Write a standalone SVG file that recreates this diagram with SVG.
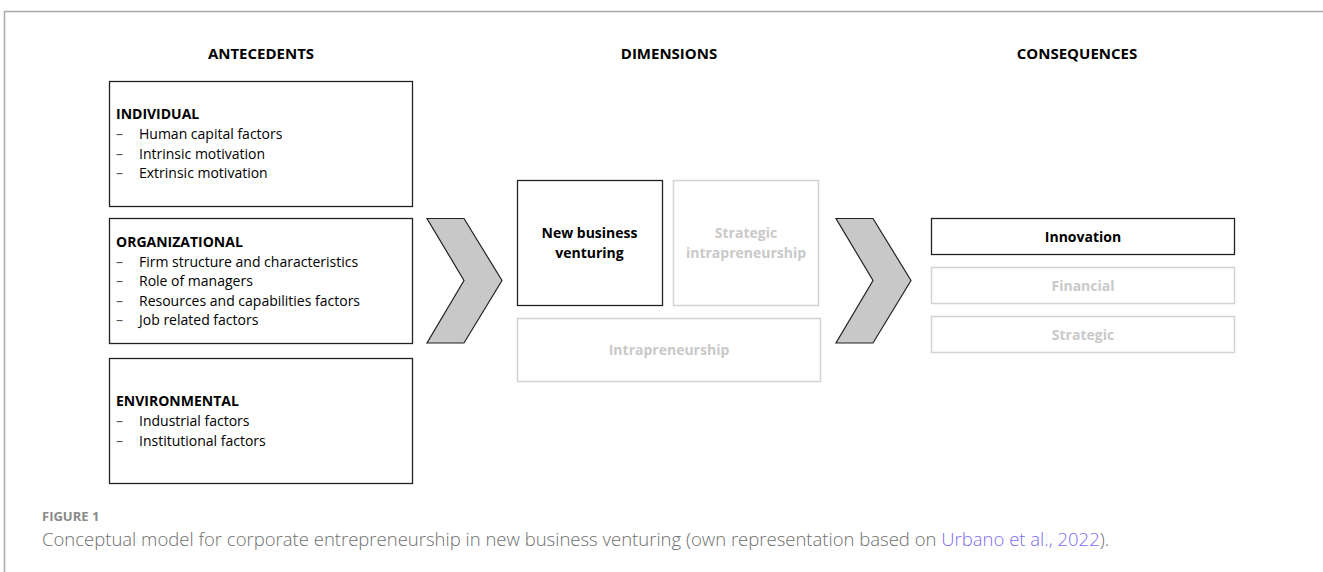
<svg xmlns="http://www.w3.org/2000/svg" width="1323" height="572" viewBox="0 0 1323 572">
<style>
.t{font-family:"Open Sans","Noto Sans",sans-serif;font-size:14px;fill:#000}
.b{font-weight:bold}
.d{fill:#555}
.h{font-family:"Open Sans","Noto Sans",sans-serif;font-size:15px;font-weight:bold;fill:#000}
.box{fill:#fff;stroke:#222;stroke-width:1.3}
.lbox{fill:#fff;stroke:#d3d3d3;stroke-width:1.5}
.lt{fill:#c9c9c9}
.chev{fill:#c8c8c8;stroke:#222;stroke-width:1.2}
.cap{font-family:"Open Sans","Noto Sans",sans-serif;font-weight:300;fill:#6e6e6e}
</style>
<rect width="1323" height="572" fill="#fff"/>
<path d="M4.5,572 V11.5 H1323" fill="none" stroke="#aaa" stroke-width="1.5"/>
<g id="headers">
<text class="h" x="261" y="59" text-anchor="middle">ANTECEDENTS</text>
<text class="h" x="669" y="59" text-anchor="middle">DIMENSIONS</text>
<text class="h" x="1077" y="59" text-anchor="middle">CONSEQUENCES</text>
</g>
<g id="individual">
<rect class="box" x="109.5" y="81.5" width="303" height="125"/>
<text class="t b" x="116" y="119">INDIVIDUAL</text>
<text class="t d" x="116" y="139">–</text><text class="t" x="139" y="139">Human capital factors</text>
<text class="t d" x="116" y="158.5">–</text><text class="t" x="139" y="158.5">Intrinsic motivation</text>
<text class="t d" x="116" y="178">–</text><text class="t" x="139" y="178">Extrinsic motivation</text>
</g>
<g id="organizational">
<rect class="box" x="109.5" y="218.5" width="303" height="125"/>
<text class="t b" x="116" y="247">ORGANIZATIONAL</text>
<text class="t d" x="116" y="266.5">–</text><text class="t" x="139" y="266.5">Firm structure and characteristics</text>
<text class="t d" x="116" y="286">–</text><text class="t" x="139" y="286">Role of managers</text>
<text class="t d" x="116" y="305.5">–</text><text class="t" x="139" y="305.5">Resources and capabilities factors</text>
<text class="t d" x="116" y="325">–</text><text class="t" x="139" y="325">Job related factors</text>
</g>
<g id="environmental">
<rect class="box" x="109.5" y="358.5" width="303" height="125"/>
<text class="t b" x="116" y="406">ENVIRONMENTAL</text>
<text class="t d" x="116" y="426">–</text><text class="t" x="139" y="426">Industrial factors</text>
<text class="t d" x="116" y="445.5">–</text><text class="t" x="139" y="445.5">Institutional factors</text>
</g>
<g id="connectors">
<polygon class="chev" points="427,218.5 464,218.5 502,280.5 464,343 427,343 464,280.5"/>
<polygon class="chev" points="836,218.5 873,218.5 911,280.5 873,343 836,343 873,280.5"/>
</g>
<g id="new-business-venturing">
<rect class="box" x="517.5" y="180.5" width="145" height="125"/>
<text class="t b" x="589.5" y="238" text-anchor="middle">New business</text>
<text class="t b" x="589.5" y="257.5" text-anchor="middle">venturing</text>
</g>
<g id="strategic-intrapreneurship">
<rect class="lbox" x="673.5" y="180.5" width="145" height="125"/>
<text class="t b lt" x="746" y="238" text-anchor="middle">Strategic</text>
<text class="t b lt" x="746" y="257.5" text-anchor="middle">intrapreneurship</text>
</g>
<g id="intrapreneurship">
<rect class="lbox" x="517.5" y="318.5" width="303" height="63"/>
<text class="t b lt" x="669" y="355" text-anchor="middle">Intrapreneurship</text>
</g>
<g id="innovation">
<rect class="box" x="931.5" y="218.5" width="303" height="36"/>
<text class="t b" x="1083" y="242" text-anchor="middle">Innovation</text>
</g>
<g id="financial">
<rect class="lbox" x="931.5" y="267.5" width="303" height="36"/>
<text class="t b lt" x="1083" y="291" text-anchor="middle">Financial</text>
</g>
<g id="strategic">
<rect class="lbox" x="931.5" y="316.5" width="303" height="36"/>
<text class="t b lt" x="1083" y="340" text-anchor="middle">Strategic</text>
</g>
<g id="caption">
<text x="42" y="521" font-family="'Open Sans','Noto Sans',sans-serif" font-size="13" font-weight="bold" fill="#8a8a8a">FIGURE 1</text>
<text class="cap" x="42" y="546" font-size="18.5">Conceptual model for corporate entrepreneurship in new business venturing (own representation based on <tspan fill="#7b6cf0">Urbano et al., 2022</tspan>).</text>
</g>
</svg>
